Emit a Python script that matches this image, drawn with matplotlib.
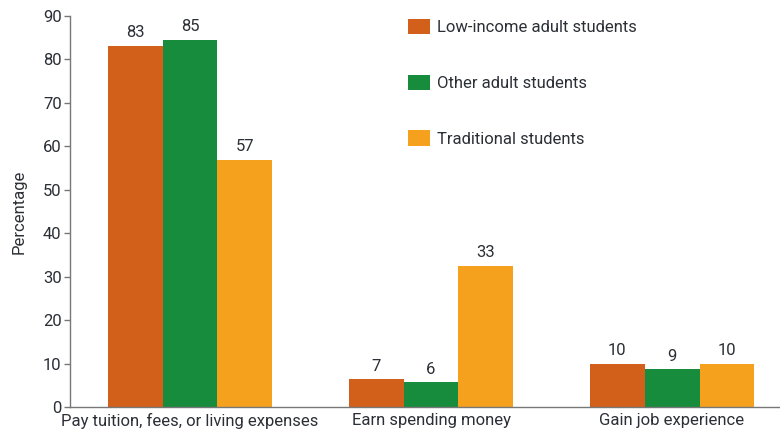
import numpy as np
import matplotlib.pyplot as plt
from matplotlib import font_manager

# data
categories = ["Pay tuition, fees, or living expenses", "Earn spending money", "Gain job experience"]
series_names = ["Low-income adult students", "Other adult students", "Traditional students"]
low_income = [83.1, 6.4, 9.9]
other_adult = [84.5, 5.7, 8.7]
traditional = [56.9, 32.5, 9.9]
low_income_labels = ["83", "7", "10"]
other_adult_labels = ["85", "6", "9"]
traditional_labels = ["57", "33", "10"]
yticks = [0, 10, 20, 30, 40, 50, 60, 70, 80, 90]

colors = ["#D2601A", "#178C3C", "#F6A11E"]
text_color = "#2b2f36"

# pick a narrow font if available
names = {f.name for f in font_manager.fontManager.ttflist}
if "Liberation Sans Narrow" in names:
    plt.rcParams['font.family'] = ['Liberation Sans Narrow', 'DejaVu Sans']
else:
    plt.rcParams['font.family'] = ['Roboto', 'DejaVu Sans']

fig = plt.figure(figsize=(7.8, 4.33), dpi=100)
ax = fig.add_axes((70 / 780, 26 / 433, 710 / 780, 391.3 / 433))

x = np.arange(len(categories))
width = 0.228
all_values = [low_income, other_adult, traditional]
all_labels = [low_income_labels, other_adult_labels, traditional_labels]

for i in range(3):
    bars = ax.bar(x + (i - 1) * width, all_values[i], width, color=colors[i],
                  label=series_names[i], linewidth=0)
    for b, lab in zip(bars, all_labels[i]):
        ax.annotate(lab, (b.get_x() + b.get_width() / 2, b.get_height()),
                    xytext=(0, 4), textcoords="offset points", ha="center", va="bottom",
                    fontsize=12, color=text_color)

ax.set_xlim(-0.498, 2.448)
ax.set_ylim(0, 90)
ax.set_yticks(yticks)
ax.set_xticks(x)
ax.set_xticklabels(categories)

for s in ["top", "right"]:
    ax.spines[s].set_visible(False)
for s in ["left", "bottom"]:
    ax.spines[s].set_color("#777777")
    ax.spines[s].set_linewidth(1.0)

ax.tick_params(axis="y", length=4, width=1, color="#777777", labelsize=12, labelcolor=text_color, pad=2)
ax.tick_params(axis="x", length=0, labelsize=12, labelcolor=text_color, pad=4)
ax.set_ylabel("Percentage", fontsize=12, color=text_color, labelpad=12)

ax.legend(loc="upper left", bbox_to_anchor=(393 / 780, 1.0 - 4 / 433), bbox_transform=fig.transFigure,
          frameon=False, fontsize=12, handlelength=1.3, handleheight=1.05,
          labelspacing=2.35, handletextpad=0.45, labelcolor=text_color)

plt.savefig("out.png", dpi=100)
plt.close(fig)
